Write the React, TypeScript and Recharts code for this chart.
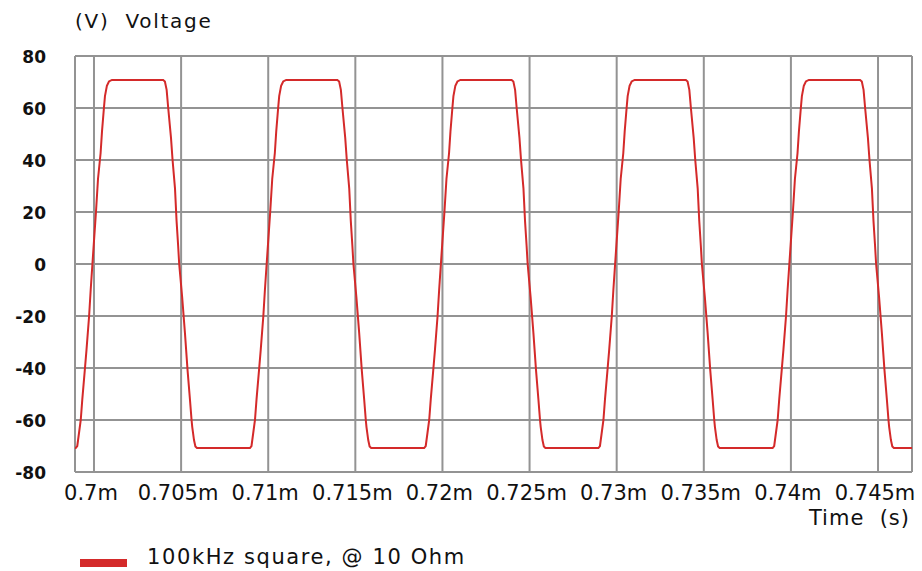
import { CartesianGrid, Line, LineChart, ReferenceLine, XAxis, YAxis } from 'recharts';

// one period of the trace: offset from the rising zero crossing (µs) and volts
const cycleOffsetsUs = [
  -0.96, -0.87, -0.77, -0.67, -0.58, -0.44, -0.34, -0.19, -0.1, 0, 0.2, 0.32, 0.47, 0.55, 0.66, 0.72,
  0.83, 0.95, 1.12, 4.06, 4.16, 4.26, 4.35, 4.51, 4.6, 4.74, 4.83, 4.92, 4.98, 5.15, 5.31, 5.46, 5.6,
  5.69, 5.73, 5.83, 5.91, 6.0,
];
const cycleVolts = [
  -70.8, -70, -65, -60, -52, -41, -33, -20, -10, 0, 19.6, 32.7, 42.7, 51, 60, 64.6, 68.5, 70.2, 70.8,
  70.8, 70.2, 67, 60, 48.5, 40, 29, 16.5, 7, 0, -12.7, -26.5, -40.8, -52.3, -60, -62.7, -67.7, -70.2,
  -70.8,
];
// rising zero crossings (ms)
const cycleStartsMs = [0.69991, 0.70991, 0.71991, 0.72991, 0.73991];
// flat low level at both edges of the window
const edgeTimesMs = [0.6988, 0.7471];
const edgeVolts = [-70.8, -70.8];

const xTicks = [0.7, 0.705, 0.71, 0.715, 0.72, 0.725, 0.73, 0.735, 0.74, 0.745];
const xTickLabels = ['0.7m', '0.705m', '0.71m', '0.715m', '0.72m', '0.725m', '0.73m', '0.735m', '0.74m', '0.745m'];
const yTicks = [-80, -60, -40, -20, 0, 20, 40, 60, 80];
const xDomain = [0.69891, 0.74695];

const data: { t: number; v: number }[] = [{ t: edgeTimesMs[0], v: edgeVolts[0] }];
cycleStartsMs.forEach((start) => {
  cycleOffsetsUs.forEach((off, i) => {
    data.push({ t: start + off / 1000, v: cycleVolts[i] });
  });
});
data.push({ t: edgeTimesMs[1], v: edgeVolts[1] });

const FONT = '"DejaVu Sans", Verdana, sans-serif';
const GRID = '#939393';
const RED = '#d42a2a';

function XTick({ x, y, index }: any) {
  return (
    <text x={x - 3} y={y + 28} textAnchor="middle" fontFamily={FONT} fontSize={21} fill="#111">
      {xTickLabels[index]}
    </text>
  );
}

function YTick({ x, y, payload }: any) {
  return (
    <text x={x - 29} y={y + 7} textAnchor="end" fontFamily={FONT} fontSize={17} fontWeight="bold" fill="#111">
      {payload.value}
    </text>
  );
}

export default function App() {
  return (
    <div style={{ position: 'absolute', left: 0, top: 0, width: 922, height: 571, background: '#fff', fontFamily: FONT }}>
      <div style={{ position: 'absolute', left: 75, top: 9, fontSize: 20, letterSpacing: 1.7, whiteSpace: 'pre', color: '#111' }}>
        (V)  Voltage
      </div>
      <LineChart width={922} height={571} data={data} margin={{ top: 56, right: 10, bottom: 69, left: 45 }}>
        <CartesianGrid stroke={GRID} strokeWidth={2} />
        <XAxis
          dataKey="t"
          type="number"
          domain={xDomain}
          allowDataOverflow
          ticks={xTicks}
          tick={<XTick />}
          tickLine={false}
          axisLine={false}
          tickSize={0}
          tickMargin={0}
          height={30}
        />
        <YAxis
          type="number"
          domain={[-80, 80]}
          ticks={yTicks}
          tick={<YTick />}
          tickLine={false}
          axisLine={false}
          tickSize={0}
          tickMargin={0}
          width={30}
        />
        <ReferenceLine x={xDomain[0]} stroke={GRID} strokeWidth={2} />
        <ReferenceLine x={xDomain[1]} stroke={GRID} strokeWidth={2} />
        <Line type="linear" dataKey="v" stroke={RED} strokeWidth={2} dot={false} isAnimationActive={false} />
      </LineChart>
      <div style={{ position: 'absolute', right: 12, top: 506, fontSize: 21, letterSpacing: 1, whiteSpace: 'pre', color: '#111' }}>
        Time  (s)
      </div>
      <div style={{ position: 'absolute', left: 80, top: 545, display: 'flex', alignItems: 'center', whiteSpace: 'pre', color: '#111' }}>
        <span style={{ display: 'inline-block', width: 47, height: 8, background: RED, marginTop: 12 }} />
        <span style={{ marginLeft: 20, fontSize: 21, letterSpacing: 1.6 }}>100kHz square, @ 10 Ohm</span>
      </div>
    </div>
  );
}
